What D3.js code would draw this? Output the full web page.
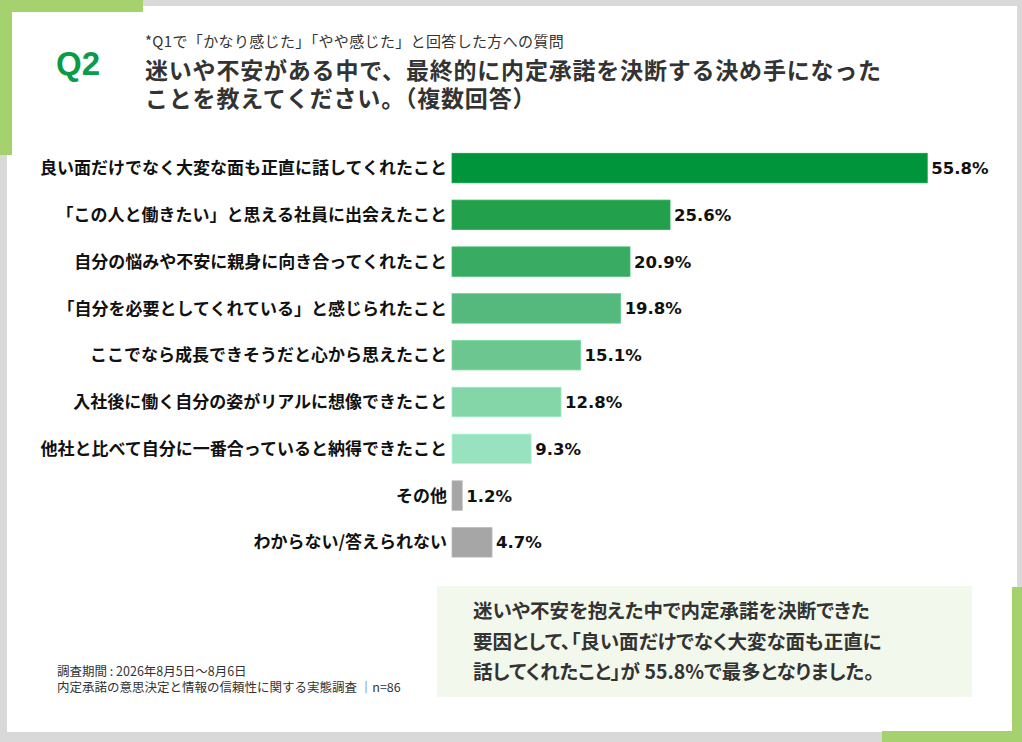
<!DOCTYPE html>
<html>
<head>
<meta charset="utf-8">
<script src="https://cdn.jsdelivr.net/npm/d3@7"></script>
<style>
  body { margin: 0; background: #fff; }
  svg { display: block; font-family: "Noto Sans CJK JP", "Noto Sans", sans-serif; }
</style>
</head>
<body>
<div class="viz"></div>
<script>
const width = 1022;
const height = 742;

// data
const categories = [
  "良い面だけでなく大変な面も正直に話してくれたこと",
  "「この人と働きたい」と思える社員に出会えたこと",
  "自分の悩みや不安に親身に向き合ってくれたこと",
  "「自分を必要としてくれている」と感じられたこと",
  "ここでなら成長できそうだと心から思えたこと",
  "入社後に働く自分の姿がリアルに想像できたこと",
  "他社と比べて自分に一番合っていると納得できたこと",
  "その他",
  "わからない/答えられない"
];
const values = [55.8, 25.6, 20.9, 19.8, 15.1, 12.8, 9.3, 1.2, 4.7];

const subtitle = "*Q1で「かなり感じた」「やや感じた」と回答した方への質問";
const titleLines = [
  "迷いや不安がある中で、最終的に内定承諾を決断する決め手になった",
  "ことを教えてください。（複数回答）"
];
const summaryLines = [
  "迷いや不安を抱えた中で内定承諾を決断できた",
  "要因として、「良い面だけでなく大変な面も正直に",
  "話してくれたこと」が 55.8%で最多となりました。"
];
const noteLines = [
  "調査期間 : 2026年8月5日～8月6日",
  "内定承諾の意思決定と情報の信頼性に関する実態調査 ｜n=86"
];

const barColors = ["#00953a", "#22a04c", "#3aab62", "#55b97d", "#6bc690",
                   "#84d6a9", "#98e2c0", "#a6a6a6", "#a6a6a6"];

const svg = d3.select(".viz")
  .append("svg")
  .attr("width", width)
  .attr("height", height);

// frame: grey backdrop, white card, green corner accents
svg.append("rect").attr("width", width).attr("height", height).attr("fill", "#d9d9d9");
svg.append("rect").attr("x", 7).attr("y", 6).attr("width", 1010).attr("height", 726).attr("fill", "#fff");
const accent = "#a5d16e";
svg.append("rect").attr("x", 0).attr("y", 0).attr("width", 143).attr("height", 12).attr("fill", accent);
svg.append("rect").attr("x", 0).attr("y", 0).attr("width", 12).attr("height", 155).attr("fill", accent);
svg.append("rect").attr("x", 1012).attr("y", 587).attr("width", 10).attr("height", 155).attr("fill", accent);
svg.append("rect").attr("x", 882).attr("y", 731).attr("width", 140).attr("height", 11).attr("fill", accent);

// heading
svg.append("text")
  .attr("x", 56).attr("y", 75)
  .style("font-family", "'Liberation Sans', Arial, sans-serif")
  .attr("font-weight", 700)
  .attr("font-size", 33)
  .attr("fill", "#0b9a47")
  .text("Q2");

svg.append("text")
  .attr("x", 145).attr("y", 47)
  .attr("font-size", 15)
  .attr("letter-spacing", 0.35)
  .attr("fill", "#333")
  .text(subtitle);

// two-line title kept in one text element
svg.append("text")
  .attr("font-size", 23)
  .attr("font-weight", 700)
  .attr("letter-spacing", 0.8)
  .attr("fill", "#333")
  .selectAll("tspan")
  .data(titleLines)
  .join("tspan")
  .attr("x", 145)
  .attr("y", (d, i) => 79 + i * 28)
  .text(d => d);

// scales
const x = d3.scaleLinear()
  .domain([0, 60])
  .range([452, 963]);

const y = d3.scaleBand()
  .domain(categories)
  .range([136, 574.4])
  .padding(0.37);

const rows = categories.map((c, i) => ({ category: c, value: values[i], color: barColors[i] }));

const bars = svg.append("g").attr("class", "bars");

bars.selectAll("rect")
  .data(rows)
  .join("rect")
  .attr("x", x(0))
  .attr("y", d => y(d.category))
  .attr("width", d => x(d.value) - x(0))
  .attr("height", y.bandwidth())
  .attr("fill", d => d.color)
  .attr("stroke", d => d3.color(d.color).brighter(0.3))
  .attr("stroke-width", 0.8);

bars.selectAll("text.value")
  .data(rows)
  .join("text")
  .attr("class", "value")
  .attr("x", d => x(d.value) + 4)
  .attr("y", d => y(d.category) + y.bandwidth() / 2)
  .attr("dy", "0.36em")
  .style("font-family", "'DejaVu Sans', sans-serif")
  .attr("font-weight", 700)
  .attr("font-size", 16.5)
  .attr("fill", "#111")
  .text(d => d.value.toFixed(1) + "%");

// category axis without line and ticks
const yAxis = svg.append("g")
  .attr("transform", `translate(${x(0) - 5},0)`)
  .call(d3.axisLeft(y).tickSize(0).tickPadding(0));
yAxis.select(".domain").remove();
yAxis.attr("font-family", null).attr("font-size", null);
yAxis.selectAll("text")
  .attr("font-size", 17)
  .attr("font-weight", 700)
  .attr("fill", "#111")
  .attr("dy", "0.36em");

// summary box
svg.append("rect")
  .attr("x", 437).attr("y", 586)
  .attr("width", 535).attr("height", 111)
  .attr("fill", "#f3f8ec");

svg.append("text")
  .attr("font-size", 19.5)
  .attr("font-weight", 700)
  .attr("fill", "#333")
  .style("font-feature-settings", "'palt'")
  .selectAll("tspan")
  .data(summaryLines)
  .join("tspan")
  .attr("x", 473)
  .attr("y", (d, i) => 618 + i * 30.5)
  .text(d => d);

// footnote
svg.append("text")
  .attr("font-size", 12.5)
  .attr("fill", "#333")
  .selectAll("tspan")
  .data(noteLines)
  .join("tspan")
  .attr("x", 57)
  .attr("y", (d, i) => 676 + i * 16)
  .text(d => d);
</script>
</body>
</html>
